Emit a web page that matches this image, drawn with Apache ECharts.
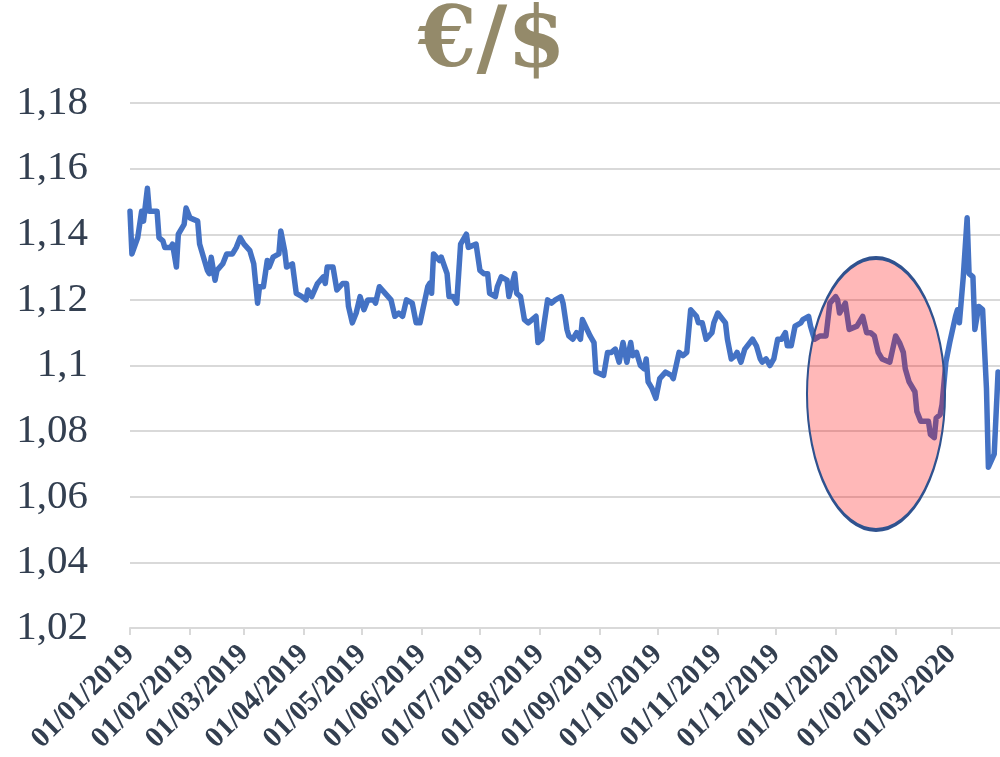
<!DOCTYPE html>
<html lang="fr">
<head>
    <meta charset="UTF-8">
    <title>€/$</title>
    <style>
        html, body { margin: 0; padding: 0; background: #fff; }
        #chart { width: 1000px; height: 757px; }
    </style>
</head>
<body>
<div id="chart"></div>
<script src="https://cdn.jsdelivr.net/npm/echarts@6/dist/echarts.min.js"></script>
<script type="text/javascript">
    // axis runs day by day from 01/01/2019
    var firstDay = new Date(2019, 0, 1);
    var dayCount = 451;

    // readings: days after 01/01/2019 and EUR/USD rate
    var rateDays = [
        0, 1, 4, 6, 7, 9, 10, 14, 15, 17, 18, 21, 22, 24, 25, 28, 29, 31, 35, 36,
        40, 41, 42, 44, 45, 48, 50, 53, 55, 57, 59, 62, 64, 66, 67, 69, 71, 72, 74, 77,
        78, 80, 81, 84, 86, 89, 91, 92, 94, 97, 100, 101, 102, 105, 107, 110, 112, 113, 115, 117,
        119, 121, 123, 126, 127, 129, 132, 135, 137, 139, 141, 143, 146, 148, 150, 154, 155, 156, 157, 160,
        161, 164, 165, 167, 169, 171, 174, 175, 179, 181, 183, 185, 186, 189, 190, 192, 195, 196, 199, 200,
        202, 204, 206, 208, 210, 211, 213, 216, 218, 220, 223, 224, 226, 227, 229, 231, 233, 234, 238, 240,
        241, 245, 247, 249, 251, 253, 255, 257, 259, 260, 262, 264, 266, 267, 268, 270, 272, 274, 277, 280,
        281, 284, 286, 288, 290, 293, 294, 296, 298, 301, 302, 304, 308, 309, 311, 313, 314, 316, 318, 322,
        324, 326, 327, 329, 331, 333, 335, 337, 339, 340, 342, 344, 347, 348, 351, 352, 354, 357, 360, 362,
        365, 366, 367, 370, 372, 376, 379, 381, 383, 385, 387, 389, 393, 396, 398, 400, 401, 403, 406, 407,
        409, 413, 414, 416, 417, 419, 420, 422, 424, 427, 428, 429, 431, 433, 434, 436, 437, 439, 441, 443,
        444, 445, 447, 449
    ];
    var rateValues = [
        1.147, 1.134, 1.139, 1.147, 1.144, 1.154, 1.147, 1.147, 1.139, 1.138, 1.136, 1.136, 1.137, 1.130, 1.140, 1.143, 1.148, 1.145, 1.144, 1.137,
        1.129, 1.128, 1.133, 1.126, 1.129, 1.131, 1.134, 1.134, 1.136, 1.139, 1.137, 1.135, 1.131, 1.119, 1.124, 1.124, 1.132, 1.130, 1.133, 1.134,
        1.141, 1.135, 1.130, 1.131, 1.122, 1.121, 1.120, 1.123, 1.121, 1.125, 1.127, 1.125, 1.130, 1.130, 1.123, 1.125, 1.125, 1.118, 1.113, 1.116,
        1.121, 1.117, 1.120, 1.120, 1.119, 1.124, 1.122, 1.120, 1.115, 1.116, 1.115, 1.120, 1.119, 1.113, 1.113, 1.124, 1.125, 1.122, 1.134, 1.132,
        1.133, 1.128, 1.121, 1.121, 1.119, 1.137, 1.140, 1.136, 1.137, 1.129, 1.128, 1.128, 1.122, 1.121, 1.124, 1.127, 1.126, 1.121, 1.128, 1.122,
        1.121, 1.114, 1.113, 1.114, 1.115, 1.107, 1.108, 1.120, 1.119, 1.120, 1.121, 1.119, 1.111, 1.109, 1.108, 1.110, 1.108, 1.114, 1.109, 1.107,
        1.098, 1.097, 1.104, 1.104, 1.105, 1.101, 1.107, 1.101, 1.107, 1.103, 1.104, 1.100, 1.099, 1.102, 1.095, 1.093, 1.090, 1.096, 1.098, 1.097,
        1.096, 1.104, 1.103, 1.104, 1.117, 1.115, 1.113, 1.113, 1.108, 1.110, 1.113, 1.116, 1.113, 1.108, 1.102, 1.103, 1.104, 1.101, 1.105, 1.108,
        1.106, 1.102, 1.101, 1.102, 1.100, 1.102, 1.108, 1.108, 1.110, 1.106, 1.106, 1.112, 1.113, 1.114, 1.115, 1.112, 1.108, 1.109, 1.109, 1.119,
        1.121, 1.120, 1.116, 1.119, 1.111, 1.112, 1.115, 1.110, 1.110, 1.109, 1.104, 1.102, 1.101, 1.109, 1.107, 1.104, 1.099, 1.095, 1.092, 1.086,
        1.083, 1.083, 1.079, 1.078, 1.084, 1.085, 1.088, 1.101, 1.107, 1.115, 1.117, 1.113, 1.127, 1.145, 1.128, 1.127, 1.111, 1.118, 1.117, 1.093,
        1.069, 1.069, 1.073, 1.098
    ];

    var yMin = 1.02, yMax = 1.18, yStep = 0.02;

    function pad(n) { return n < 10 ? '0' + n : '' + n; }

    var dayLabels = [];
    for (var i = 0; i < dayCount; i++) {
        var d = new Date(firstDay.getFullYear(), firstDay.getMonth(), firstDay.getDate() + i);
        dayLabels.push(pad(d.getDate()) + '/' + pad(d.getMonth() + 1) + '/' + d.getFullYear());
    }

    var lineData = [];
    for (var i = 0; i < dayCount; i++) lineData.push(null);
    for (var i = 0; i < rateDays.length; i++) lineData[rateDays[i]] = rateValues[i];

    var isMonthStart = function (idx, value) {
        return dayLabels[idx].indexOf('01/') === 0;
    };

    var chart = echarts.init(document.getElementById('chart'), null, {renderer: 'canvas'});
    var option = {
        backgroundColor: '#fff',
        animation: false,
        title: {
            text: '€/$',
            left: 413,
            top: -3,
            textStyle: {
                fontFamily: 'DejaVu Serif',
                fontWeight: 'bold',
                fontSize: 84,
                color: '#948A6A'
            }
        },
        grid: {
            left: 130,
            right: -3,
            top: 103,
            bottom: 129,
            containLabel: false
        },
        xAxis: {
            type: 'category',
            data: dayLabels,
            boundaryGap: false,
            axisLine: {lineStyle: {color: '#D9D9D9', width: 2}},
            axisTick: {
                show: true,
                interval: isMonthStart,
                length: 7,
                lineStyle: {color: '#D9D9D9', width: 2}
            },
            axisLabel: {
                interval: isMonthStart,
                rotate: 45,
                margin: 22,
                fontFamily: 'Liberation Serif',
                fontWeight: 'bold',
                fontSize: 29,
                color: '#333F50'
            },
            splitLine: {show: false}
        },
        yAxis: {
            type: 'value',
            min: yMin,
            max: yMax,
            interval: yStep,
            axisLine: {show: false},
            axisTick: {show: false},
            axisLabel: {
                margin: 42,
                fontFamily: 'Liberation Serif',
                fontSize: 41,
                color: '#333F50',
                formatter: function (v) {
                    return String(parseFloat(v.toFixed(2))).replace('.', ',');
                }
            },
            splitLine: {lineStyle: {color: '#D9D9D9', width: 2}}
        },
        series: [
            {
                name: '€/$',
                type: 'line',
                data: lineData,
                connectNulls: true,
                showSymbol: false,
                symbol: 'none',
                lineStyle: {color: '#4472C4', width: 5.5, cap: 'round', join: 'round'},
                z: 2
            }
        ],
        // the red ellipse drawn over Jan-Feb 2020
        graphic: [
            {
                type: 'circle',
                x: 876,
                y: 394,
                scaleX: 69 / 136,
                scaleY: 1,
                shape: {cx: 0, cy: 0, r: 136},
                style: {
                    fill: 'rgba(255,0,0,0.28)',
                    stroke: '#2F528F',
                    lineWidth: 4
                },
                z: 100
            }
        ]
    };
    chart.setOption(option);
</script>
</body>
</html>
